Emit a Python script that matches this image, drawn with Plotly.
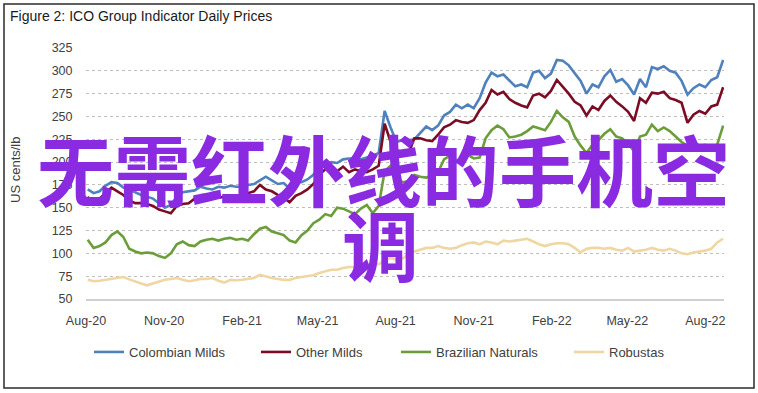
import pandas as pd
import plotly.graph_objects as go

# Weekly observation dates (Aug 2020 - Aug 2022)
dates = pd.date_range("2020-08-03", periods=108, freq="7D")

colombian_milds = [
    170, 166, 168, 174, 178, 177, 172, 170, 167, 164, 162, 160, 155, 150, 153, 162, 167, 168, 169, 173,
    171, 170, 173, 172, 174, 173, 173, 175, 176, 180, 184, 180, 176, 177, 171, 178, 178, 181, 186, 195,
    196, 200, 199, 203, 204, 204, 203, 205, 207, 210, 256, 238, 222, 224, 224, 225, 232, 239, 235, 240,
    251, 255, 263, 259, 263, 259, 270, 287, 298, 294, 296, 290, 283, 285, 282, 298, 300, 292, 297, 312,
    311, 306, 297, 289, 275, 285, 282, 294, 301, 288, 291, 284, 274, 291, 282, 304, 302, 305, 300, 298,
    289, 274, 281, 285, 282, 290, 293, 312]

other_milds = [
    162, 155, 160, 166, 172, 168, 164, 158, 155, 155, 154, 152, 148, 146, 144, 152, 154, 155, 160, 159,
    160, 162, 161, 162, 161, 163, 164, 166, 168, 175, 170, 168, 164, 161, 156, 163, 166, 170, 176, 186,
    192, 195, 190, 195, 189, 192, 190, 189, 192, 196, 242, 222, 213, 211, 209, 226, 226, 224, 223, 230,
    238, 241, 246, 244, 243, 246, 257, 265, 279, 274, 277, 269, 265, 262, 260, 273, 275, 271, 278, 290,
    283, 275, 266, 262, 251, 261, 257, 267, 273, 266, 261, 255, 245, 270, 265, 276, 275, 277, 270, 268,
    265, 243, 252, 256, 253, 261, 263, 282]

brazilian_naturals = [
    115, 106, 108, 112, 120, 124, 118, 105, 102, 100, 101, 100, 97, 95, 100, 110, 113, 109, 108, 113,
    115, 116, 114, 116, 117, 115, 116, 114, 121, 127, 129, 124, 122, 120, 114, 112, 120, 125, 133, 137,
    143, 141, 150, 149, 146, 143, 149, 153, 144, 152, 190, 196, 182, 178, 179, 186, 184, 183, 186, 189,
    203, 207, 202, 203, 208, 204, 205, 226, 235, 240, 236, 227, 228, 230, 234, 239, 237, 235, 244, 256,
    249, 244, 228, 218, 210, 219, 224, 231, 236, 228, 226, 220, 212, 228, 230, 241, 234, 238, 234, 228,
    222, 218, 222, 218, 219, 215, 219, 240]

robustas = [
    71, 69.5, 70, 71, 72.5, 73, 74, 71.5, 69, 67, 65, 67, 69, 71, 72, 73, 71, 69.5, 70.5, 72,
    72, 73, 70, 68, 71, 70.5, 71, 72, 73, 76.5, 74.5, 73, 72, 71, 71, 73, 74, 75, 76, 78.5,
    80, 82, 82, 84, 85, 85, 86, 87, 88, 88, 92, 95, 93, 94, 99, 102, 104, 106, 106, 108,
    106, 105, 106, 109, 111, 112, 110, 113, 112, 110, 114, 113, 114, 115, 116, 113, 110, 108, 110, 111,
    111, 110, 106, 101, 105, 106, 106, 105, 106, 104, 103, 106, 102, 103, 104, 106, 104, 103, 105, 103,
    100, 99, 101, 102, 103, 105, 112, 116]

series_names = ["Colombian Milds", "Other Milds", "Brazilian Naturals", "Robustas"]
series_values = [colombian_milds, other_milds, brazilian_naturals, robustas]
series_colors = ["#4F81BD", "#7A0C24", "#6B9D3A", "#EFD6A2"]

y_ticks = [50, 75, 100, 125, 150, 175, 200, 225, 250, 275, 300, 325]

# plot-area geometry in pixels (for paper-coordinate conversion)
W, H = 758, 393
L, R, T, B = 86, 724, 48, 299


def px(x):
    return (x - L) / (R - L)


def py(y):
    return (B - y) / (B - T)


legend_line_starts = [94, 261, 401, 574]

fig = go.Figure()
for i, (name, vals, col) in enumerate(zip(series_names, series_values, series_colors)):
    lg = "legend" if i == 0 else f"legend{i + 1}"
    fig.add_trace(go.Scatter(
        x=dates, y=vals, name=name, mode="lines",
        line=dict(color=col, width=2.6),
        legend=lg,
    ))

FAM = "Liberation Sans, Arial, sans-serif"
tick_font = dict(family=FAM, size=12.5, color="#404040")
legend_font = dict(family=FAM, size=13, color="#404040")

legend_defs = {}
for i, xs in enumerate(legend_line_starts):
    key = "legend" if i == 0 else f"legend{i + 1}"
    legend_defs[key] = dict(
        x=px(xs - 5), y=py(352), xanchor="left", yanchor="middle",
        orientation="h", bgcolor="rgba(0,0,0,0)", borderwidth=0,
        font=legend_font, itemwidth=30, tracegroupgap=0,
    )

fig.update_layout(
    width=W, height=H,
    margin=dict(l=L, r=W - R, t=T, b=H - B, pad=0),
    paper_bgcolor="white", plot_bgcolor="white",
    showlegend=True,
    title=dict(
        text="Figure 2: ICO Group Indicator Daily Prices",
        x=10 / W, xref="container", xanchor="left",
        y=1 - 16 / H, yref="container", yanchor="middle",
        font=dict(family=FAM, size=14, color="#1a1a1a"),
    ),
    xaxis=dict(
        type="date",
        range=["2020-08-01", "2022-08-23"],
        tick0="2020-08-01", dtick="M3", tickformat="%b-%y",
        showgrid=False, zeroline=False,
        showline=True, linecolor="#D0D0D0", linewidth=1.5,
        ticks="outside", ticklen=9, tickcolor="rgba(0,0,0,0)",
        tickfont=tick_font,
    ),
    yaxis=dict(
        range=[50, 325], tickvals=y_ticks,
        showgrid=True, gridcolor="#BFBFBF", griddash="dot", gridwidth=1,
        zeroline=False, showline=False,
        ticks="outside", ticklen=10, tickcolor="rgba(0,0,0,0)",
        tickfont=tick_font,
    ),
    **legend_defs,
)

# y-axis title
fig.add_annotation(
    text="US cents/lb", textangle=-90,
    x=px(15), y=py(170), xref="paper", yref="paper",
    xanchor="center", yanchor="middle", showarrow=False,
    font=dict(family=FAM, size=13, color="#404040"),
)

# watermark overlay text
wm_font = dict(family="Noto Sans CJK SC", size=77, color="#8A2BE2")
fig.add_annotation(
    text="<b>无需红外线的手机空</b>", x=px(383), y=py(167), xref="paper", yref="paper",
    xanchor="center", yanchor="middle", showarrow=False, font=wm_font,
)
fig.add_annotation(
    text="<b>调</b>", x=px(380), y=py(242), xref="paper", yref="paper",
    xanchor="center", yanchor="middle", showarrow=False, font=wm_font,
)

# outer frame
fig.add_shape(
    type="rect", xref="paper", yref="paper",
    x0=px(4), x1=px(754), y0=py(388), y1=py(4),
    line=dict(color="#2b2b2b", width=1.5), fillcolor="rgba(0,0,0,0)", layer="above",
)

fig.write_html(
    "out.html",
    config={"displayModeBar": False},
    post_script="document.body.style.margin='0';document.body.style.overflow='hidden';",
)
